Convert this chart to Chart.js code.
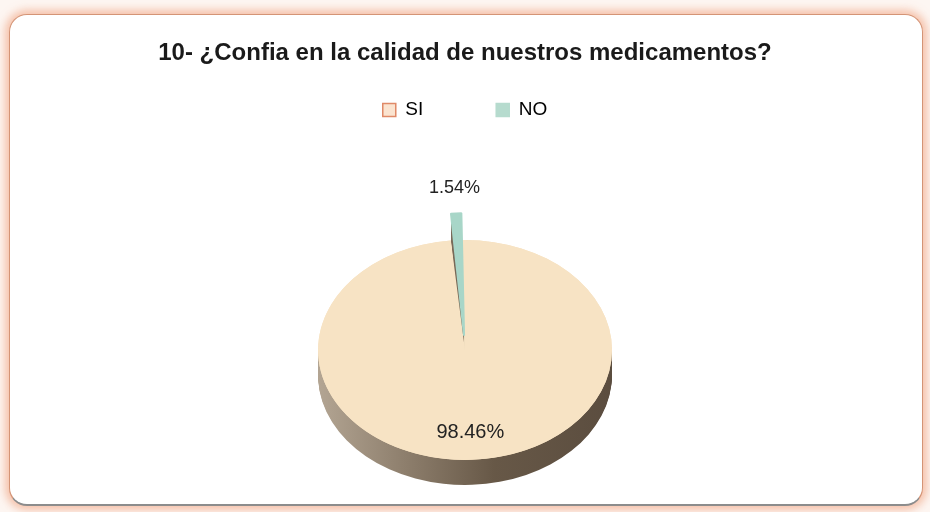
<!DOCTYPE html>
<html>
<head>
<meta charset="utf-8">
<script src="https://cdn.jsdelivr.net/npm/chart.js@4.4.1/dist/chart.umd.min.js"></script>
<style>
html, body { margin: 0; padding: 0; background: #fff; }
#wrap { position: relative; width: 930px; height: 512px; overflow: hidden; background: #fdf6f2; }
#frame {
    position: absolute; left: 9px; top: 14px; width: 912px; height: 489px;
    background: #fff; border: 1px solid #d49476; border-bottom: 2px solid #8c8c8c;
    border-radius: 18px; box-shadow: 0 0 9px 4px rgba(238, 150, 110, 0.55);
}
canvas { position: absolute; left: 0; top: 0; }
</style>
</head>
<body>
<div id="wrap">
    <div id="frame"></div>
    <canvas id="myChart" width="930" height="512"></canvas>
</div>
<script>
const titleText = '10- ¿Confia en la calidad de nuestros medicamentos?';
const categories = ['SI', 'NO'];
const percentages = [98.46, 1.54];

const sliceColors = ['#f7e3c4', '#a8d6c8'];
const legendFill = ['#fbe4d0', '#b6dbce'];
const legendStroke = ['#e08a68', '#b6dbce'];
const FONT = '"Liberation Sans", Arial, sans-serif';

// tilt of the pie plane, depth of the rim, screen y of the pie centre
const TILT = 0.748;
const DEPTH = 25;
const PIE_CY = 350;

function pivotY(cy) {
    return (PIE_CY - cy * TILT) / (1 - TILT);
}
function tiltY(y, cy) {
    const p = pivotY(cy);
    return p + (y - p) * TILT;
}
function applyTilt(ctx, cy) {
    const p = pivotY(cy);
    ctx.translate(0, p);
    ctx.scale(1, TILT);
    ctx.translate(0, -p);
}

// draw a copy of an arc element with another fill, shifted down by d
function drawCopy(ctx, arc, fill, cy, d, extra) {
    ctx.save();
    ctx.translate(0, d);
    applyTilt(ctx, cy);
    const copy = Object.create(arc);
    copy.options = Object.assign({}, arc.options, {backgroundColor: fill, borderWidth: 0}, extra ? {offset: 0} : {});
    Object.assign(copy, extra || {});
    copy.draw(ctx);
    ctx.restore();
}

const pie3d = {
    id: 'pie3d',
    beforeDatasetsDraw(chart) {
        const ctx = chart.ctx;
        const arcs = chart.getDatasetMeta(0).data;
        const big = arcs[0], cx = big.x, cy = big.y, r = big.outerRadius;
        const grad = ctx.createLinearGradient(cx - r, 0, cx + r, 0);
        grad.addColorStop(0, '#b3a593');
        grad.addColorStop(0.3, '#8d7e6c');
        grad.addColorStop(0.6, '#675847');
        grad.addColorStop(1, '#5b4d3f');

        // rim of the big slice, front half only
        ctx.save();
        ctx.beginPath();
        ctx.rect(0, PIE_CY, chart.width, chart.height);
        ctx.clip();
        for (let d = DEPTH; d > 0; d--) drawCopy(ctx, big, grad, cy, d);
        ctx.restore();

        // floor under the pulled-out slice
        drawCopy(ctx, big, sliceColors[0], cy, 0, {
            endAngle: big.startAngle + Math.PI * 2,
            circumference: Math.PI * 2
        });

        // rim of the pulled-out slice (keeps its own offset)
        arcs.slice(1).forEach(a => {
            for (let d = DEPTH; d > 0; d--) drawCopy(ctx, a, grad, cy, d);
        });

        ctx.save();
        applyTilt(ctx, cy);
    },
    afterDatasetsDraw(chart) {
        const ctx = chart.ctx;
        ctx.restore();
        const arcs = chart.getDatasetMeta(0).data;
        ctx.save();
        ctx.fillStyle = '#222';
        ctx.textAlign = 'center';
        ctx.textBaseline = 'middle';
        arcs.forEach((a, i) => {
            const mid = (a.startAngle + a.endAngle) / 2;
            const inside = percentages[i] > 50;
            const d = inside ? a.outerRadius * 0.75 : a.outerRadius + 70;
            ctx.font = (inside ? 20 : 18) + 'px ' + FONT;
            const x = a.x + Math.cos(mid) * d;
            const y = tiltY(a.y + Math.sin(mid) * d, a.y);
            ctx.fillText(percentages[i].toFixed(2) + '%', x, y);
        });
        ctx.restore();
    }
};

const ctx = document.getElementById('myChart').getContext('2d');
const myChart = new Chart(ctx, {
    type: 'pie',
    data: {
        labels: categories,
        datasets: [{
            data: percentages,
            backgroundColor: sliceColors,
            borderColor: sliceColors,
            borderWidth: [0, 2],
            offset: [0, 76],
            clip: false
        }]
    },
    options: {
        responsive: false,
        animation: false,
        events: [],
        radius: 147,
        plugins: {
            title: {
                display: true,
                text: titleText,
                color: '#1a1a1a',
                font: {family: FONT, size: 24, weight: 'bold'},
                padding: {top: 39, bottom: -40.3}
            },
            legend: {
                display: true,
                position: 'top',
                labels: {
                    boxWidth: 13,
                    boxHeight: 13,
                    padding: 73,
                    color: '#222',
                    font: {family: FONT, size: 19},
                    generateLabels: () => categories.map((c, i) => ({
                        text: c,
                        fillStyle: legendFill[i],
                        strokeStyle: legendStroke[i],
                        lineWidth: 1.5,
                        hidden: false,
                        index: i
                    }))
                }
            },
            tooltip: {enabled: false}
        }
    },
    plugins: [pie3d]
});
</script>
</body>
</html>
